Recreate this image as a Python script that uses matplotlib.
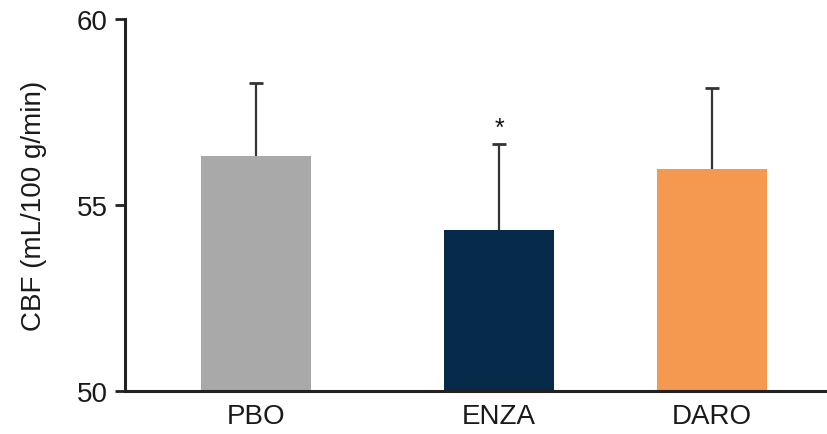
import matplotlib
matplotlib.use("Agg")
import matplotlib.pyplot as plt

categories = ["PBO", "ENZA", "DARO"]
means = [56.32, 54.34, 55.97]
sd_upper = [1.96, 2.30, 2.18]
significance = ["", "*", ""]
colors = ["#A8A9A8", "#052A4A", "#F59850"]

plt.rcParams['font.family'] = ['Liberation Sans', 'DejaVu Sans']

fig = plt.figure(figsize=(8.28, 4.35), dpi=100)
ax = fig.add_axes([125/828, 1 - 392/435, 1 - 125/828, (392 - 20)/435])

positions = [131, 374, 587]
ax.bar(positions, [m - 50 for m in means], bottom=50, width=110, color=colors,
       zorder=2)
_, caps, _ = ax.errorbar(positions, means, yerr=[[0]*3, sd_upper], fmt='none',
                         ecolor='#333333', elinewidth=1.6, capsize=5,
                         capthick=2, zorder=3)
for c in caps:
    yd = list(c.get_ydata())
    if all(abs(a - b) < 1e-9 for a, b in zip(yd, means)):
        c.set_visible(False)
for x, m, s, t in zip(positions, means, sd_upper, significance):
    if t:
        ax.annotate(t, (x, m + s), xytext=(0, 3), textcoords='offset points',
                    ha='center', va='bottom', fontsize=18, color='#111111')

ax.set_xlim(0, 703)
ax.set_ylim(50, 60)
ax.set_yticks([50, 55, 60])
ax.set_xticks(positions)
ax.set_xticklabels(categories)
ax.set_ylabel("CBF (mL/100 g/min)", fontsize=20, color='#1a1a1a', labelpad=21)

for side in ['top', 'right']:
    ax.spines[side].set_visible(False)
for side in ['left', 'bottom']:
    ax.spines[side].set_linewidth(2.2)
    ax.spines[side].set_color('#222222')
ax.tick_params(axis='y', length=7.5, width=2, color='#222222', labelsize=20,
               pad=5, labelcolor='#1a1a1a')
ax.tick_params(axis='x', length=0, labelsize=20, pad=9, labelcolor='#1a1a1a')

fig.savefig("out.png", dpi=100)
